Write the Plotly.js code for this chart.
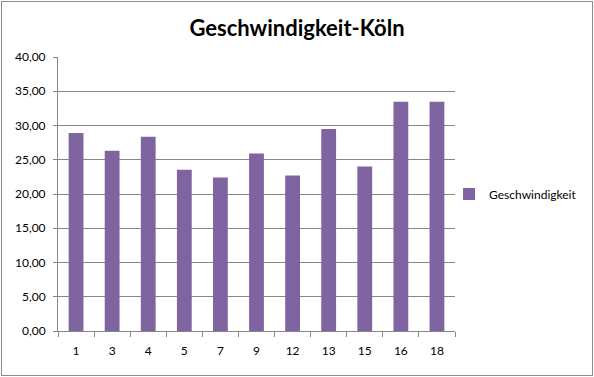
<!DOCTYPE html>
<html>
<head>
<meta charset="utf-8">
<script src="https://cdn.plot.ly/plotly-3.0.1.min.js"></script>
<style>
html,body{margin:0;padding:0;background:#fff;}
#wrap{position:absolute;left:1px;top:1px;width:590px;height:373px;border:1px solid #8c8c8c;}
#chart{position:absolute;left:-2px;top:-2px;width:594px;height:377px;}
</style>
</head>
<body>
<div id="wrap"><div id="chart"></div></div>
<script>
const categories = ['1','3','4','5','7','9','12','13','15','16','18'];
const speed = [28.9, 26.3, 28.35, 23.55, 22.4, 25.9, 22.7, 29.5, 24.0, 33.45, 33.45];
const seriesName = 'Geschwindigkeit';
const chartTitle = 'Geschwindigkeit-Köln';
const yTicks = [0,5,10,15,20,25,30,35,40];

const FONT = 'Lato, "Open Sans", sans-serif';
const trace = {
  type: 'bar',
  x: categories,
  y: speed,
  name: seriesName,
  marker: {color: '#8064A2'},
  showlegend: true
};
const layout = {
  width: 594, height: 377,
  margin: {l: 58, r: 136, t: 57, b: 46},
  paper_bgcolor: 'rgba(0,0,0,0)',
  plot_bgcolor: '#fff',
  separators: ',.',
  bargap: 0.59,
  font: {family: FONT, size: 12, color: '#000'},
  title: {text: '<b>' + chartTitle + '</b>', font: {family: FONT, size: 22, color: '#000'}, x: 0.5, xanchor: 'center', y: 0.925, yanchor: 'middle'},
  xaxis: {
    type: 'category',
    showline: true, linecolor: '#868686', linewidth: 1,
    ticks: 'outside', tickson: 'boundaries', ticklen: 5, tickcolor: '#868686',
    showgrid: false, tickfont: {family: FONT, size: 12}, ticklabelstandoff: 9
  },
  yaxis: {
    range: [0, 40], tickvals: yTicks, tickformat: '.2f',
    showline: true, linecolor: '#868686', linewidth: 1,
    ticks: 'outside', ticklen: 4, tickcolor: '#868686',
    showgrid: true, gridcolor: '#868686', gridwidth: 1,
    zeroline: false, tickfont: {family: FONT, size: 12}, ticklabelstandoff: 5
  },
  showlegend: true,
  legend: {x: 0.985, xanchor: 'left', y: 0.5, yanchor: 'middle', font: {family: FONT, size: 12}, itemwidth: 30, bgcolor: 'rgba(0,0,0,0)'}
};
Plotly.newPlot('chart', [trace], layout, {displayModeBar: false, staticPlot: true});
</script>
</body>
</html>
